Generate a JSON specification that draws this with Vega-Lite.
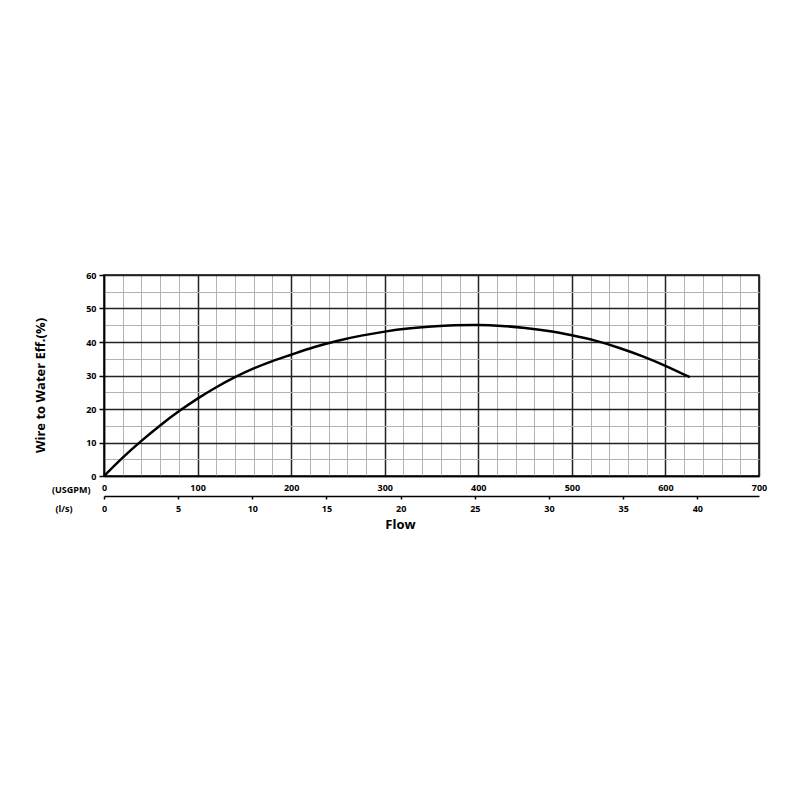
{
  "$schema": "https://vega.github.io/schema/vega-lite/v6.json",
  "width": 655,
  "height": 201,
  "autosize": "none",
  "padding": {"left": 104, "top": 275, "right": 41, "bottom": 324},
  "config": {
    "font": "Open Sans",
    "view": {"stroke": "black", "strokeWidth": 1.5}
  },
  "title": {
    "text": "Flow",
    "orient": "bottom",
    "anchor": "middle",
    "fontSize": 13,
    "fontWeight": "bold",
    "color": "black",
    "dx": -31,
    "offset": 6
  },
  "layer": [
    {
      "data": {
        "values": [
          {"usgpm": 0, "eff": 0},
          {"usgpm": 20, "eff": 5.5},
          {"usgpm": 40, "eff": 10.5},
          {"usgpm": 60, "eff": 15.1},
          {"usgpm": 80, "eff": 19.3},
          {"usgpm": 100, "eff": 23.1},
          {"usgpm": 120, "eff": 26.5},
          {"usgpm": 140, "eff": 29.5},
          {"usgpm": 160, "eff": 32.1},
          {"usgpm": 180, "eff": 34.3},
          {"usgpm": 200, "eff": 36.2},
          {"usgpm": 225, "eff": 38.5},
          {"usgpm": 250, "eff": 40.4},
          {"usgpm": 275, "eff": 41.9},
          {"usgpm": 300, "eff": 43.1},
          {"usgpm": 325, "eff": 44.0},
          {"usgpm": 350, "eff": 44.6},
          {"usgpm": 375, "eff": 45.0},
          {"usgpm": 400, "eff": 45.1},
          {"usgpm": 425, "eff": 44.8},
          {"usgpm": 450, "eff": 44.2},
          {"usgpm": 475, "eff": 43.3},
          {"usgpm": 500, "eff": 42.0},
          {"usgpm": 525, "eff": 40.4},
          {"usgpm": 550, "eff": 38.3},
          {"usgpm": 575, "eff": 35.8},
          {"usgpm": 600, "eff": 32.9},
          {"usgpm": 626, "eff": 29.5}
        ]
      },
      "mark": {"type": "line", "color": "black", "strokeWidth": 2.5, "interpolate": "natural"},
      "encoding": {
        "x": {
          "field": "usgpm",
          "type": "quantitative",
          "scale": {"domain": [0, 700], "nice": false},
          "axis": {
            "values": [0, 20, 40, 60, 80, 100, 120, 140, 160, 180, 200, 220, 240, 260, 280, 300, 320, 340, 360, 380, 400, 420, 440, 460, 480, 500, 520, 540, 560, 580, 600, 620, 640, 660, 680, 700],
            "labelExpr": "datum.value % 100 === 0 ? datum.label : ''",
            "labelOverlap": false,
            "labelFlush": false,
            "ticks": false,
            "labelPadding": 7,
            "labelFontSize": 9,
            "labelFontWeight": "bold",
            "labelColor": "black",
            "domainColor": "black",
            "domainWidth": 1.5,
            "grid": true,
            "gridColor": {"condition": {"test": "datum.value % 100 === 0", "value": "#222222"}, "value": "#b3b3b3"},
            "gridWidth": {"condition": {"test": "datum.value % 100 === 0", "value": 1.5}, "value": 1},
            "gridOpacity": 1,
            "title": "(USGPM)",
            "titleX": -14,
            "titleY": 13,
            "titleAlign": "right",
            "titleBaseline": "middle",
            "titleFontSize": 9,
            "titleFontWeight": "bold",
            "titleColor": "black"
          }
        },
        "y": {
          "field": "eff",
          "type": "quantitative",
          "scale": {"domain": [0, 60], "nice": false},
          "axis": {
            "values": [0, 5, 10, 15, 20, 25, 30, 35, 40, 45, 50, 55, 60],
            "labelExpr": "datum.value % 10 === 0 ? datum.label : ''",
            "labelOverlap": false,
            "labelFlush": false,
            "tickSize": 5,
            "tickColor": {"condition": {"test": "datum.value % 10 === 0", "value": "black"}, "value": "transparent"},
            "tickWidth": 1.5,
            "labelPadding": 3,
            "labelFontSize": 9,
            "labelFontWeight": "bold",
            "labelColor": "black",
            "domainColor": "black",
            "domainWidth": 1.5,
            "grid": true,
            "gridColor": {"condition": {"test": "datum.value % 10 === 0", "value": "#222222"}, "value": "#b3b3b3"},
            "gridWidth": {"condition": {"test": "datum.value % 10 === 0", "value": 1.5}, "value": 1},
            "gridOpacity": 1,
            "title": "Wire to Water Eff.(%)",
            "titleX": -64,
            "titleY": 110,
            "titleBaseline": "middle",
            "titleFontSize": 13,
            "titleFontWeight": "bold",
            "titleColor": "black"
          }
        }
      }
    },
    {
      "data": {"values": [{"ls": 0}, {"ls": 44.16}]},
      "mark": {"type": "point", "opacity": 0},
      "encoding": {
        "x": {
          "field": "ls",
          "type": "quantitative",
          "scale": {"domain": [0, 44.16], "nice": false},
          "axis": {
            "orient": "bottom",
            "offset": 20,
            "values": [0, 5, 10, 15, 20, 25, 30, 35, 40],
            "grid": false,
            "tickSize": 3,
            "tickColor": "black",
            "tickWidth": 1.5,
            "labelPadding": 5,
            "labelFontSize": 9,
            "labelFontWeight": "bold",
            "labelColor": "black",
            "labelFlush": false,
            "domainColor": "black",
            "domainWidth": 1.5,
            "title": "(l/s)",
            "titleX": -32,
            "titleY": 12,
            "titleAlign": "right",
            "titleBaseline": "middle",
            "titleFontSize": 9,
            "titleFontWeight": "bold",
            "titleColor": "black"
          }
        }
      }
    }
  ],
  "resolve": {"scale": {"x": "independent"}, "axis": {"x": "independent"}}
}
